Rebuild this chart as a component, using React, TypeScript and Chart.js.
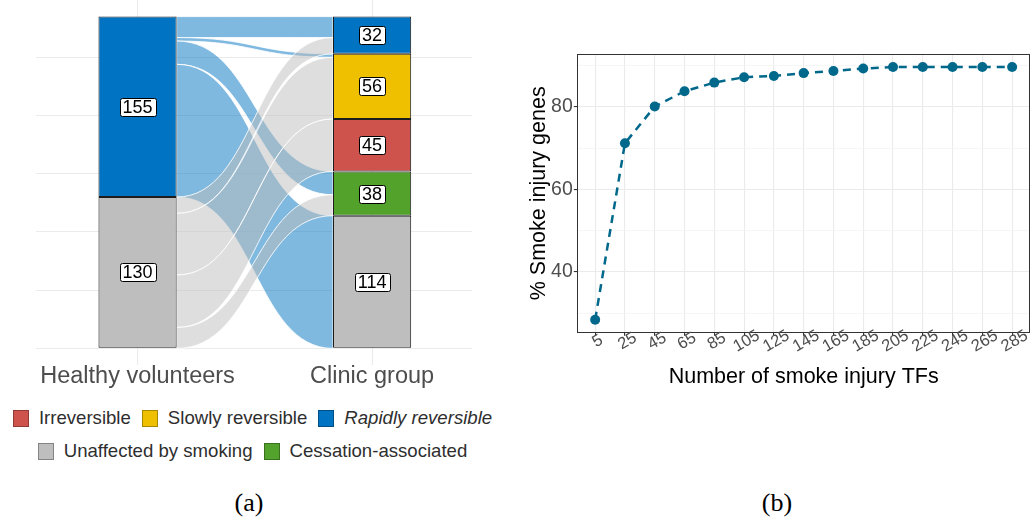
import { useEffect, useRef } from "react";
import { Chart, registerables } from "chart.js";

Chart.register(...registerables);

const SANS = '"Liberation Sans", Arial, Helvetica, sans-serif';
const SERIF = '"Liberation Serif", "Times New Roman", serif';
Chart.defaults.font.family = SANS;

// ---------- (a) alluvial: gene categories in both cohorts ----------
const axisNames = ["Healthy volunteers", "Clinic group"];
// strata listed from top to bottom
const healthyStrata = ["Rapidly reversible", "Unaffected by smoking"];
const healthyCounts = [155, 130];
const clinicStrata = [
  "Rapidly reversible",
  "Slowly reversible",
  "Irreversible",
  "Cessation-associated",
  "Unaffected by smoking",
];
const clinicCounts = [32, 56, 45, 38, 114];
// flows between the two axes
const flowFrom = [
  "Rapidly reversible",
  "Rapidly reversible",
  "Rapidly reversible",
  "Rapidly reversible",
  "Unaffected by smoking",
  "Unaffected by smoking",
  "Unaffected by smoking",
  "Unaffected by smoking",
];
const flowTo = [
  "Rapidly reversible",
  "Slowly reversible",
  "Cessation-associated",
  "Unaffected by smoking",
  "Rapidly reversible",
  "Slowly reversible",
  "Irreversible",
  "Cessation-associated",
];
const flowCounts = [18, 3, 20, 114, 14, 53, 45, 18];

const categoryColors: Record<string, string> = {
  "Irreversible": "#CD534C",
  "Slowly reversible": "#EFC000",
  "Rapidly reversible": "#0073C2",
  "Unaffected by smoking": "#BEBEBE",
  "Cessation-associated": "#52A22C",
};
const legendRows = [
  ["Irreversible", "Slowly reversible", "Rapidly reversible"],
  ["Unaffected by smoking", "Cessation-associated"],
];
const italicLegendKeys = ["Rapidly reversible"];

// ---------- (b) smoke injury genes vs number of TFs ----------
const tfCounts = [5, 25, 45, 65, 85, 105, 125, 145, 165, 185, 205, 225, 245, 265, 285];
const smokeGenePct = [28.4, 71.2, 80.1, 83.8, 85.9, 87.2, 87.5, 88.2, 88.7, 89.3, 89.7, 89.7, 89.7, 89.7, 89.7];
const pctGridValues = [30, 40, 50, 60, 70, 80, 90];
const pctTickLabels = [40, 60, 80];

const sum = (a: number[]) => a.reduce((s, v) => s + v, 0);

function stackTopDown(counts: number[], total: number): [number, number][] {
  const out: [number, number][] = [];
  let top = total;
  for (const c of counts) {
    out.push([top - c, top]);
    top -= c;
  }
  return out;
}

const alluvialTotal = sum(healthyCounts);
const healthySpans = stackTopDown(healthyCounts, alluvialTotal);
const clinicSpans = stackTopDown(clinicCounts, alluvialTotal);

function flowBands() {
  const idx = flowCounts.map((_, i) => i);
  const leftTop: number[] = [];
  const rightTop: number[] = [];
  healthyStrata.forEach((s, si) => {
    let top = healthySpans[si][1];
    idx
      .filter((i) => flowFrom[i] === s)
      .sort((a, b) => clinicStrata.indexOf(flowTo[a]) - clinicStrata.indexOf(flowTo[b]))
      .forEach((i) => {
        leftTop[i] = top;
        top -= flowCounts[i];
      });
  });
  clinicStrata.forEach((s, si) => {
    let top = clinicSpans[si][1];
    idx
      .filter((i) => flowTo[i] === s)
      .sort((a, b) => healthyStrata.indexOf(flowFrom[a]) - healthyStrata.indexOf(flowFrom[b]))
      .forEach((i) => {
        rightTop[i] = top;
        top -= flowCounts[i];
      });
  });
  return idx.map((i) => ({ from: flowFrom[i], l: leftTop[i], r: rightTop[i], n: flowCounts[i] }));
}

function withAlpha(hex: string, a: number) {
  const v = parseInt(hex.slice(1), 16);
  return `rgba(${(v >> 16) & 255},${(v >> 8) & 255},${v & 255},${a})`;
}

const flowPlugin = {
  id: "alluvialFlows",
  beforeDatasetsDraw(chart: any) {
    const { ctx } = chart;
    const xs = chart.scales.x;
    const ys = chart.scales.y;
    const el = chart.getDatasetMeta(0).data[0];
    const hw = el.width / 2;
    const x0 = xs.getPixelForValue(1) + hw;
    const x1 = xs.getPixelForValue(2) - hw;
    const xm = (x0 + x1) / 2;
    ctx.save();
    for (const f of flowBands()) {
      const yl0 = ys.getPixelForValue(f.l);
      const yl1 = ys.getPixelForValue(f.l - f.n);
      const yr0 = ys.getPixelForValue(f.r);
      const yr1 = ys.getPixelForValue(f.r - f.n);
      ctx.beginPath();
      ctx.moveTo(x0, yl0);
      ctx.bezierCurveTo(xm, yl0, xm, yr0, x1, yr0);
      ctx.lineTo(x1, yr1);
      ctx.bezierCurveTo(xm, yr1, xm, yl1, x0, yl1);
      ctx.closePath();
      ctx.fillStyle = withAlpha(categoryColors[f.from], 0.5);
      ctx.fill();
      ctx.strokeStyle = "rgba(255,255,255,0.85)";
      ctx.lineWidth = 1;
      ctx.stroke();
    }
    ctx.restore();
  },
};

const stratumLabelPlugin = {
  id: "stratumLabels",
  afterDatasetsDraw(chart: any) {
    const { ctx } = chart;
    ctx.save();
    ctx.font = `18px ${SANS}`;
    ctx.textAlign = "center";
    ctx.textBaseline = "middle";
    chart.data.datasets.forEach((ds: any, i: number) => {
      const el = chart.getDatasetMeta(i).data[0];
      const span = ds.data[0].y as [number, number];
      const text = String(span[1] - span[0]);
      const cx = el.x;
      const cy = (el.y + el.base) / 2;
      const w = ctx.measureText(text).width + 6;
      const h = 18;
      ctx.beginPath();
      ctx.roundRect(Math.round(cx - w / 2) + 0.5, Math.round(cy - h / 2) + 0.5, Math.round(w), h, 2);
      ctx.fillStyle = "#ffffff";
      ctx.fill();
      ctx.strokeStyle = "#000000";
      ctx.lineWidth = 1;
      ctx.stroke();
      ctx.fillStyle = "#000000";
      ctx.fillText(text, cx, cy + 1);
    });
    ctx.restore();
  },
};

function alluvialConfig(): any {
  const strata = [
    ...healthyStrata.map((s, i) => ({ label: s, x: 1, span: healthySpans[i] })),
    ...clinicStrata.map((s, i) => ({ label: s, x: 2, span: clinicSpans[i] })),
  ];
  const pad = alluvialTotal * 0.05;
  const yGrid: number[] = [];
  for (let v = 0; v <= alluvialTotal; v += 50) yGrid.push(v);
  return {
    type: "bar",
    data: {
      datasets: strata.map((s) => ({
        label: s.label,
        data: [{ x: s.x, y: s.span }],
        backgroundColor: categoryColors[s.label],
        borderColor: "#1c1c1c",
        borderWidth: 1,
        borderSkipped: false,
        grouped: false,
        categoryPercentage: 1,
        barPercentage: 1 / 3,
      })),
    },
    options: {
      animation: false,
      responsive: false,
      events: [],
      layout: { padding: { left: 36, right: 28, top: 0, bottom: 0 } },
      plugins: { legend: { display: false }, tooltip: { enabled: false } },
      scales: {
        x: {
          type: "linear",
          offset: false,
          min: 0.567,
          max: 2.426,
          afterBuildTicks: (s: any) => {
            s.ticks = axisNames.map((_, i) => ({ value: i + 1 }));
          },
          afterFit: (s: any) => {
            s.height = 35;
          },
          ticks: {
            callback: (v: number) => axisNames[v - 1] ?? "",
            font: { size: 23.5, family: SANS, lineHeight: 1 },
            color: "#4D4D4D",
            padding: 0,
            maxRotation: 0,
            autoSkip: false,
          },
          grid: { color: "#EBEBEB", lineWidth: 1.1, drawTicks: false, offset: false },
          border: { display: false },
        },
        y: {
          type: "linear",
          min: -pad,
          max: alluvialTotal + pad,
          afterBuildTicks: (s: any) => {
            s.ticks = yGrid.map((v) => ({ value: v }));
          },
          afterFit: (s: any) => {
            s.width = 0;
          },
          ticks: { display: false },
          grid: { color: "#EBEBEB", lineWidth: 1.1, drawTicks: false },
          border: { display: false },
        },
      },
    },
    plugins: [flowPlugin, stratumLabelPlugin],
  };
}

const panelBorderPlugin = {
  id: "panelBorder",
  afterDraw(chart: any) {
    const { ctx, chartArea: a } = chart;
    ctx.save();
    ctx.strokeStyle = "#333333";
    ctx.lineWidth = 1;
    ctx.strokeRect(Math.round(a.left) + 0.5, Math.round(a.top) + 0.5, Math.round(a.right - a.left) - 1, Math.round(a.bottom - a.top));
    ctx.restore();
  },
};

const slantedTickPlugin = {
  id: "slantedTicks",
  afterDraw(chart: any) {
    const { ctx, chartArea } = chart;
    const xs = chart.scales.x;
    ctx.save();
    ctx.font = `16.5px ${SANS}`;
    ctx.fillStyle = "#4D4D4D";
    ctx.textAlign = "center";
    ctx.textBaseline = "middle";
    for (const v of tfCounts) {
      ctx.save();
      ctx.translate(xs.getPixelForValue(v) + 2.5, chartArea.bottom + 9);
      ctx.rotate((-30 * Math.PI) / 180);
      ctx.fillText(String(v), 0, 0);
      ctx.restore();
    }
    ctx.restore();
  },
};

function curveConfig(): any {
  const lo = Math.min(...smokeGenePct);
  const hi = Math.max(...smokeGenePct);
  const yPad = (hi - lo) * 0.05;
  const step = tfCounts[1] - tfCounts[0];
  const isLabelled = (v: number) => pctTickLabels.includes(v);
  return {
    type: "line",
    data: {
      datasets: [
        {
          data: tfCounts.map((x, i) => ({ x, y: smokeGenePct[i] })),
          borderColor: "#00688B",
          backgroundColor: "#00688B",
          borderWidth: 2.5,
          borderDash: [8, 6],
          pointRadius: 5,
          pointBorderWidth: 0,
          pointBackgroundColor: "#00688B",
          tension: 0,
          fill: false,
        },
      ],
    },
    options: {
      animation: false,
      responsive: false,
      events: [],
      layout: { padding: { left: 0, right: 2.7, top: 24.3, bottom: 0 } },
      plugins: { legend: { display: false }, tooltip: { enabled: false } },
      scales: {
        x: {
          type: "linear",
          min: tfCounts[0] - 0.6 * step,
          max: tfCounts[tfCounts.length - 1] + 0.6 * step,
          afterBuildTicks: (s: any) => {
            s.ticks = tfCounts.map((v) => ({ value: v }));
          },
          afterFit: (s: any) => {
            s.height = 67.7;
          },
          ticks: { display: false },
          grid: { color: "#EBEBEB", lineWidth: 1.1, tickColor: "#333333", tickLength: 3.5, drawTicks: true },
          border: { display: false },
          title: {
            display: true,
            text: "Number of smoke injury TFs",
            color: "#000000",
            font: { size: 21.5, family: SANS },
            padding: { top: 0, bottom: 10.4 },
          },
        },
        y: {
          type: "linear",
          min: lo - yPad,
          max: hi + yPad,
          afterBuildTicks: (s: any) => {
            s.ticks = pctGridValues.map((v) => ({ value: v }));
          },
          afterFit: (s: any) => {
            s.width = 57.3;
          },
          ticks: {
            callback: (v: number) => (isLabelled(v) ? String(v) : ""),
            font: { size: 19.5, family: SANS },
            color: "#4D4D4D",
            padding: 1,
          },
          grid: {
            color: (c: any) => (isLabelled(c.tick?.value) ? "#EBEBEB" : "#F2F2F2"),
            lineWidth: (c: any) => (isLabelled(c.tick?.value) ? 1.1 : 0.7),
            tickColor: (c: any) => (isLabelled(c.tick?.value) ? "#333333" : "rgba(0,0,0,0)"),
            tickLength: 3.5,
            drawTicks: true,
          },
          border: { display: false },
          title: {
            display: true,
            text: "% Smoke injury genes",
            color: "#000000",
            font: { size: 21.5, family: SANS },
            padding: { top: 6.1, bottom: 0 },
          },
        },
      },
    },
    plugins: [panelBorderPlugin, slantedTickPlugin],
  };
}

export default function App() {
  const aRef = useRef<HTMLCanvasElement>(null);
  const bRef = useRef<HTMLCanvasElement>(null);

  useEffect(() => {
    const a = new Chart(aRef.current as HTMLCanvasElement, alluvialConfig());
    const b = new Chart(bRef.current as HTMLCanvasElement, curveConfig());
    return () => {
      a.destroy();
      b.destroy();
    };
  }, []);

  const caption = (text: string, cx: number) => (
    <div
      style={{
        position: "absolute",
        left: cx - 40,
        width: 80,
        top: 488,
        height: 30,
        lineHeight: "30px",
        textAlign: "center",
        fontFamily: SERIF,
        fontSize: 26,
        color: "#000",
      }}
    >
      {text}
    </div>
  );

  return (
    <div
      style={{
        position: "absolute",
        left: 0,
        top: 0,
        width: 1035,
        height: 518,
        background: "#ffffff",
        overflow: "hidden",
        fontFamily: SANS,
      }}
    >
      <canvas
        ref={aRef}
        width={500}
        height={400}
        style={{ position: "absolute", left: 0, top: 0, width: 500, height: 400 }}
      />
      {legendRows.map((row, ri) => (
        <div
          key={ri}
          style={{
            position: "absolute",
            left: 0,
            width: 505,
            top: 408 + ri * 33,
            height: 20,
            display: "flex",
            justifyContent: "center",
            alignItems: "center",
          }}
        >
          {row.map((name, i) => (
            <div
              key={name}
              style={{ display: "flex", alignItems: "center", marginRight: i < row.length - 1 ? 11 : 0 }}
            >
              <div
                style={{
                  width: 16,
                  height: 17,
                  boxSizing: "border-box",
                  background: categoryColors[name],
                  border: "1px solid rgba(0,0,0,0.3)",
                  marginRight: 10,
                }}
              />
              <span
                style={{
                  fontSize: 18.6,
                  lineHeight: "20px",
                  color: "#2e2e2e",
                  fontStyle: italicLegendKeys.includes(name) ? "italic" : "normal",
                  whiteSpace: "nowrap",
                }}
              >
                {name}
              </span>
            </div>
          ))}
        </div>
      ))}
      {caption("(a)", 249)}
      <canvas
        ref={bRef}
        width={515}
        height={370}
        style={{ position: "absolute", left: 520, top: 30, width: 515, height: 370 }}
      />
      {caption("(b)", 777)}
    </div>
  );
}
